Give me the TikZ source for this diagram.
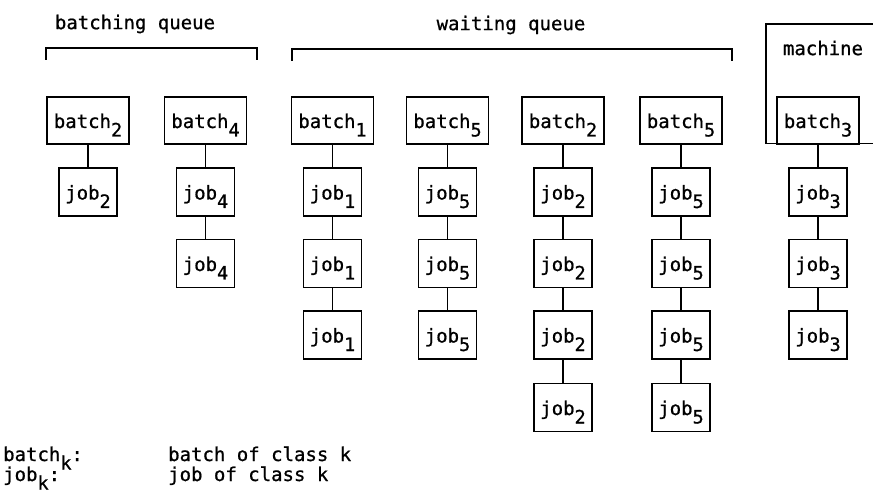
\documentclass[tikz,border=0pt]{standalone}
\usepackage{fontspec}
\newfontfamily\tw[FakeBold=0.8]{DejaVu Sans Mono}
\newcommand\sbs[1]{\raisebox{-8.5bp}{\fontsize{18.5bp}{18.5bp}\selectfont #1}}
\begin{document}
\begin{tikzpicture}[x=1bp,y=-1bp,
  lw/.style={line width=1.5bp},
  txt/.style={font=\tw\fontsize{19bp}{20bp}\selectfont, inner sep=0pt},
  batchbox/.style={txt, draw, lw, minimum width=82bp, minimum height=47bp, text height=15bp, text depth=0bp},
  jobbox/.style={txt, draw, lw, minimum width=58bp, minimum height=48bp, text height=15bp, text depth=0bp},
  conn/.style={lw},
  frame/.style={lw}]
\useasboundingbox (0,0) rectangle (873,494);

% headings and brackets
\node[txt] (hbq) at (135,24) {batching queue};
\node[txt] (hwq) at (511,25) {waiting queue};
\draw[frame] (46,60) -- (46,48) -- (257,48) -- (257,60);
\draw[frame] (292,61) -- (292,49) -- (732,49) -- (732,61);

% machine
\draw[frame] (873,24) -- (766,24) -- (766,143.5) -- (873,143.5);
\node[txt] (mach) at (823,48) {machine};

% batches
\node[batchbox] (b1) at (88,120.5) {batch\sbs{2}};
\node[batchbox] (b2) at (205.5,120.5) {batch\sbs{4}};
\node[batchbox] (b3) at (332.5,120.5) {batch\sbs{1}};
\node[batchbox] (b4) at (447.5,120.5) {batch\sbs{5}};
\node[batchbox] (b5) at (563,120.5) {batch\sbs{2}};
\node[batchbox] (b6) at (681,120.5) {batch\sbs{5}};
\node[batchbox] (b7) at (818,120.5) {batch\sbs{3}};

% jobs
\node[jobbox] (j1a) at (88,192) {job\sbs{2}};

\node[jobbox] (j2a) at (205.5,192) {job\sbs{4}};
\node[jobbox] (j2b) at (205.5,263.5) {job\sbs{4}};

\node[jobbox] (j3a) at (332.5,192) {job\sbs{1}};
\node[jobbox] (j3b) at (332.5,263.5) {job\sbs{1}};
\node[jobbox] (j3c) at (332.5,335) {job\sbs{1}};

\node[jobbox] (j4a) at (447.5,192) {job\sbs{5}};
\node[jobbox] (j4b) at (447.5,263.5) {job\sbs{5}};
\node[jobbox] (j4c) at (447.5,335) {job\sbs{5}};

\node[jobbox] (j5a) at (563,192) {job\sbs{2}};
\node[jobbox] (j5b) at (563,263.5) {job\sbs{2}};
\node[jobbox] (j5c) at (563,335) {job\sbs{2}};
\node[jobbox] (j5d) at (563,407.5) {job\sbs{2}};

\node[jobbox] (j6a) at (681,192) {job\sbs{5}};
\node[jobbox] (j6b) at (681,263.5) {job\sbs{5}};
\node[jobbox] (j6c) at (681,335) {job\sbs{5}};
\node[jobbox] (j6d) at (681,407.5) {job\sbs{5}};

\node[jobbox] (j7a) at (818,192) {job\sbs{3}};
\node[jobbox] (j7b) at (818,263.5) {job\sbs{3}};
\node[jobbox] (j7c) at (818,335) {job\sbs{3}};

% connectors
\draw[conn] (b1) -- (j1a);
\draw[conn] (b2) -- (j2a) -- (j2b);
\draw[conn] (b3) -- (j3a) -- (j3b) -- (j3c);
\draw[conn] (b4) -- (j4a) -- (j4b) -- (j4c);
\draw[conn] (b5) -- (j5a) -- (j5b) -- (j5c) -- (j5d);
\draw[conn] (b6) -- (j6a) -- (j6b) -- (j6c) -- (j6d);
\draw[conn] (b7) -- (j7a) -- (j7b) -- (j7c);

% legend
\node[txt, anchor=base west] (l1) at (3,461) {batch\sbs{k}:};
\node[txt, anchor=base west] (l2) at (3,481) {job\sbs{k}:};
\node[txt, anchor=base west] (d1) at (168,461) {batch of class k};
\node[txt, anchor=base west] (d2) at (168,481) {job of class k};
\end{tikzpicture}
\end{document}
